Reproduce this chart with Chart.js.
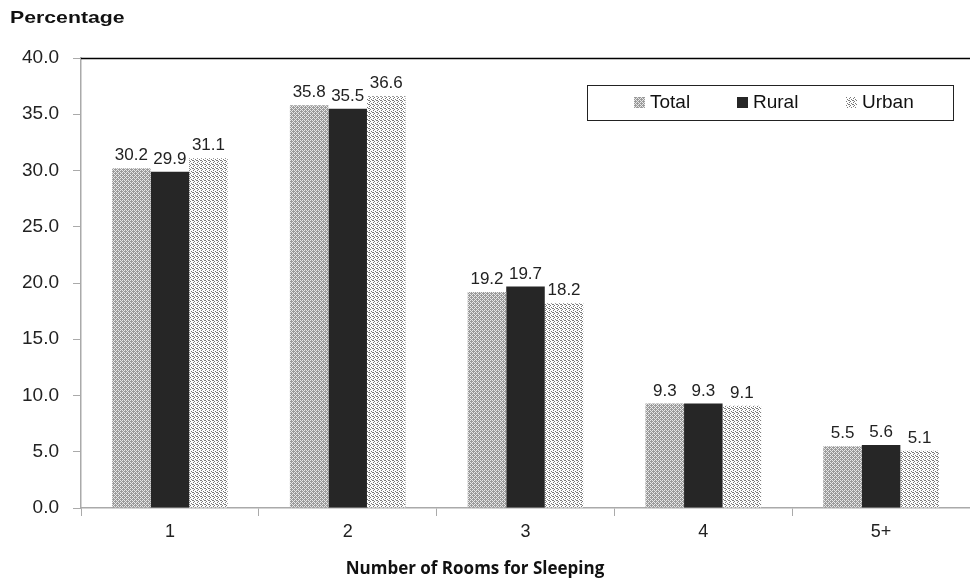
<!DOCTYPE html>
<html>
<head>
<meta charset="utf-8">
<script src="https://cdn.jsdelivr.net/npm/chart.js@4"></script>
<style>
  html, body { margin: 0; padding: 0; background: #fff; }
  #wrap { width: 970px; height: 583px; position: relative; }
</style>
</head>
<body>
<div id="wrap"><canvas id="grafico"></canvas></div>
<script>
// dados do gráfico
const categorias = ["1", "2", "3", "4", "5+"];
const total = [30.2, 35.8, 19.2, 9.3, 5.5];
const rural = [29.9, 35.5, 19.7, 9.3, 5.6];
const urbana = [31.1, 36.6, 18.2, 9.1, 5.1];
const nomesSeries = ["Total", "Rural", "Urban"];
const tituloY = "Percentage";
const tituloX = "Number of Rooms for Sleeping";

// padrões de preenchimento
function criarPadrao(fundo, ponto, pontos) {
    const c = document.createElement("canvas");
    c.width = 4; c.height = 4;
    const g = c.getContext("2d");
    g.fillStyle = fundo;
    g.fillRect(0, 0, 4, 4);
    g.fillStyle = ponto;
    pontos.forEach(p => g.fillRect(p[0], p[1], 1, 1));
    return g.createPattern(c, "repeat");
}
const padraoTotal = criarPadrao("#9a9a9a", "#e8e8e8", [[0, 0], [2, 0], [1, 1], [0, 2], [2, 2], [3, 3]]);
const padraoUrbano = criarPadrao("#ffffff", "#7a7a7a", [[0, 0], [2, 1], [1, 2], [3, 3], [1, 0]]);
const cores = [padraoTotal, "#262626", padraoUrbano];

const fonte = "'Liberation Sans', Arial, sans-serif";

const extras = {
    id: "extras",
    afterDatasetsDraw(chart) {
        const ctx = chart.ctx;
        const area = chart.chartArea;
        ctx.save();
        // linha superior da área
        ctx.strokeStyle = "#000";
        ctx.lineWidth = 1.5;
        ctx.beginPath();
        ctx.moveTo(area.left, area.top + 0.5);
        ctx.lineTo(area.right, area.top + 0.5);
        ctx.stroke();

        // rótulos de valores
        ctx.fillStyle = "#222";
        ctx.font = "17px " + fonte;
        ctx.textAlign = "center";
        ctx.textBaseline = "bottom";
        chart.data.datasets.forEach((ds, i) => {
            chart.getDatasetMeta(i).data.forEach((bar, j) => {
                ctx.fillText(ds.data[j].toFixed(1), bar.x, bar.y - 4);
            });
        });

        // títulos
        ctx.fillStyle = "#111";
        ctx.save();
        ctx.translate(10, 18);
        ctx.scale(1.25, 1);
        ctx.font = "bold 17px " + fonte;
        ctx.textAlign = "left";
        ctx.textBaseline = "middle";
        ctx.fillText(tituloY, 0, 0);
        ctx.restore();
        ctx.font = "bold 17px 'Open Sans', sans-serif";
        ctx.textAlign = "center";
        ctx.textBaseline = "middle";
        ctx.fillText(tituloX, 475, 569);

        // legenda
        ctx.fillStyle = "#fff";
        ctx.fillRect(587, 85, 366, 35);
        ctx.strokeStyle = "#222";
        ctx.lineWidth = 1;
        ctx.strokeRect(587.5, 85.5, 366, 35);
        const posX = [634, 737, 846];
        ctx.font = "19px " + fonte;
        ctx.textAlign = "left";
        ctx.textBaseline = "middle";
        chart.data.datasets.forEach((ds, i) => {
            ctx.fillStyle = ds.backgroundColor;
            ctx.fillRect(posX[i], 97, 11, 11);
            ctx.fillStyle = "#111";
            ctx.fillText(ds.label, posX[i] + 16, 103);
        });
        ctx.restore();
    }
};

const ctx = document.getElementById("grafico").getContext("2d");
new Chart(ctx, {
    type: "bar",
    data: {
        labels: categorias,
        datasets: [total, rural, urbana].map((valores, i) => ({
            label: nomesSeries[i],
            data: valores,
            backgroundColor: cores[i],
            borderWidth: 0,
            categoryPercentage: 0.65,
            barPercentage: 1.0
        }))
    },
    options: {
        responsive: true,
        maintainAspectRatio: false,
        animation: false,
        layout: { padding: { top: 58, left: 0, right: 0, bottom: 0 } },
        plugins: {
            legend: { display: false },
            tooltip: { enabled: false }
        },
        scales: {
            x: {
                afterFit: (s) => { s.height = 75; },
                grid: { offset: true, drawOnChartArea: false, tickLength: 8, color: "#aaa" },
                border: { color: "#aaa", width: 1.5 },
                ticks: {
                    color: "#222",
                    padding: 5,
                    font: { size: 18, family: fonte }
                }
            },
            y: {
                min: 0,
                max: 40,
                afterFit: (s) => { s.width = 81; },
                grid: { drawOnChartArea: false, tickLength: 8, color: "#aaa" },
                border: { color: "#aaa", width: 1.5 },
                ticks: {
                    stepSize: 5,
                    color: "#222",
                    padding: 14,
                    callback: (v) => v.toFixed(1),
                    font: { size: 19, family: fonte }
                }
            }
        }
    },
    plugins: [extras]
});
</script>
</body>
</html>
